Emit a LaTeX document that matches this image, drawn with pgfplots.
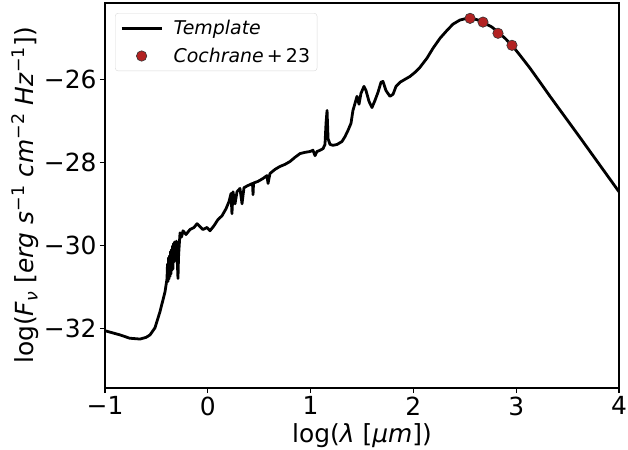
\documentclass[border=0pt]{standalone}
\usepackage{pgfplots}
\pgfplotsset{compat=1.18}
\usepackage{fontspec}
\setmainfont{DejaVu Sans}
\definecolor{ptred}{HTML}{B22222}
\pgfplotsset{
 lineleg/.style={legend image code/.code={\draw[##1] (0bp,0bp) -- (40bp,0bp); \path[draw=none,fill=none] (0bp,0bp) rectangle (50bp,0.1bp);}},
 markleg/.style={legend image code/.code={\draw[##1] plot coordinates {(20bp,0bp)}; \path[draw=none,fill=none] (0bp,0bp) rectangle (50bp,0.1bp);}},
}
\begin{document}
\begin{tikzpicture}
\useasboundingbox (-105bp,-62bp) rectangle (523bp,388bp);
\begin{axis}[
 scale only axis, width=514bp, height=385bp,
 at={(0,0)}, anchor=south west,
 xmin=-1, xmax=4, ymin=-33.44, ymax=-24.16,
 xtick={-1,0,1,2,3,4}, xticklabels={−1,0,1,2,3,4},
 ytick={-32,-30,-28,-26}, yticklabels={−32,−30,−28,−26},
 tick label style={font=\fontsize{25}{28}\selectfont},
 xtick pos=bottom, ytick pos=left, tick align=outside,
 major tick length=5bp,
 tick style={black, line width=1.3pt},
 axis line style={line width=1.8pt},
 xlabel={log(\textit{λ} [\textit{μm}])},
 ylabel={log(\textit{F}\textsubscript{\textit{ν}} [\textit{erg s}\textsuperscript{−1} \textit{cm}\textsuperscript{−2} \textit{Hz}\textsuperscript{−1}])},
 label style={font=\fontsize{25}{28}\selectfont},
 xlabel style={yshift=-1bp},
 ylabel style={yshift=-2bp},
 legend style={at={(axis description cs:0.0195,0.974)}, anchor=north west, draw=black!15, rounded corners=3bp, font=\fontsize{19}{22}\selectfont, row sep=8bp, inner sep=5bp},
 legend cell align=left,
]
\addplot[black, line width=2.8pt, line join=round, lineleg] coordinates {
(-1.0,-32.06) (-0.854,-32.16) (-0.76,-32.24) (-0.66,-32.26) (-0.6,-32.22) (-0.562,-32.16) (-0.514,-31.99) (-0.465,-31.60) (-0.416,-31.12) (-0.397,-30.81)
(-0.392,-30.45) (-0.387,-30.87) (-0.382,-30.30) (-0.377,-30.81) (-0.372,-30.25) (-0.368,-30.75) (-0.363,-30.15) (-0.358,-30.69) (-0.353,-30.10) (-0.348,-30.60)
(-0.343,-30.02) (-0.339,-30.57) (-0.334,-29.96) (-0.329,-30.40) (-0.324,-29.92) (-0.319,-30.37) (-0.314,-29.95) (-0.309,-30.23) (-0.305,-29.90) (-0.300,-30.20)
(-0.295,-30.50) (-0.290,-30.80) (-0.285,-30.30) (-0.280,-30.08) (-0.270,-29.70) (-0.255,-29.80) (-0.241,-29.65) (-0.212,-29.74) (-0.173,-29.62) (-0.134,-29.57) (-0.105,-29.48) (-0.076,-29.55) (-0.047,-29.62)
(-0.008,-29.57) (0.021,-29.65) (0.06,-29.53) (0.099,-29.38) (0.138,-29.29) (0.177,-29.12) (0.206,-28.95) (0.226,-28.75) (0.235,-29.24) (0.245,-28.71)
(0.265,-29.0) (0.284,-28.71) (0.313,-28.63) (0.333,-29.0) (0.352,-28.61) (0.391,-28.56) (0.435,-28.51) (0.44,-28.78) (0.445,-28.50) (0.488,-28.46)
(0.537,-28.39) (0.576,-28.32) (0.586,-28.51) (0.605,-28.27) (0.654,-28.17) (0.702,-28.10) (0.751,-28.05) (0.80,-27.98) (0.848,-27.88) (0.897,-27.79)
(0.946,-27.76) (0.994,-27.74) (1.023,-27.71) (1.043,-27.84) (1.062,-27.74) (1.092,-27.71) (1.121,-27.67) (1.14,-27.57) (1.15,-27.06) (1.16,-26.75)
(1.17,-27.43) (1.189,-27.57) (1.218,-27.59) (1.257,-27.57) (1.305,-27.50) (1.335,-27.38) (1.364,-27.23) (1.393,-27.06) (1.412,-26.75) (1.432,-26.58)
(1.451,-26.41) (1.471,-26.60) (1.490,-26.34) (1.519,-26.17) (1.539,-26.27) (1.568,-26.53) (1.597,-26.68) (1.626,-26.51) (1.656,-26.31) (1.685,-26.07)
(1.704,-26.05) (1.733,-26.27) (1.772,-26.41) (1.802,-26.36) (1.831,-26.17) (1.87,-26.07) (1.918,-26.0) (1.967,-25.93) (2.016,-25.83) (2.064,-25.71)
(2.132,-25.49) (2.191,-25.25) (2.259,-25.01) (2.327,-24.82) (2.385,-24.67) (2.453,-24.57) (2.521,-24.53) (2.570,-24.53) (2.628,-24.57) (2.696,-24.65)
(2.764,-24.74) (2.823,-24.86) (2.891,-25.01) (2.959,-25.18) (3.037,-25.42) (3.134,-25.73) (3.232,-26.07) (3.329,-26.41) (3.62,-27.40) (4.0,-28.71)
};
\addlegendentry{\textit{Template}}
\addplot[only marks, mark=*, mark size=5.2bp, mark options={fill=ptred, draw=black!80, line width=0.6pt}, markleg] coordinates {
(2.551,-24.53) (2.677,-24.62) (2.823,-24.89) (2.959,-25.18)
};
\addlegendentry{\textit{Cochrane}\,+\,23}
\end{axis}
\end{tikzpicture}
\end{document}
